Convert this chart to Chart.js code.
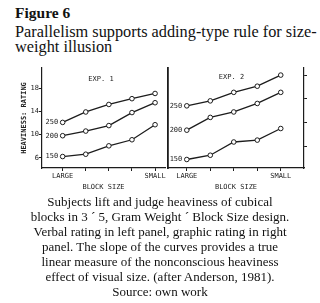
<!DOCTYPE html>
<html>
<head>
<meta charset="utf-8">
<script src="https://cdn.jsdelivr.net/npm/chart.js@4.4.0/dist/chart.umd.min.js"></script>
<style>
body { margin: 0; background: #fff; width: 320px; height: 303px; overflow: hidden; position: relative; font-family: "Liberation Serif", serif; color: #111; }
#titulo { position: absolute; left: 15px; top: 5px; font-weight: bold; font-size: 15.5px; line-height: 15px; }
#sub { position: absolute; left: 15px; top: 24px; font-size: 16.3px; line-height: 15px; white-space: nowrap; }
#legenda { position: absolute; left: 0; top: 194px; width: 320px; text-align: center; font-size: 13px; line-height: 15px; }
#c1 { position: absolute; left: 0; top: 55px; }
#c2 { position: absolute; left: 160px; top: 55px; }
</style>
</head>
<body>
<div id="titulo">Figure 6</div>
<div id="sub">Parallelism supports adding-type rule for size-<br>weight illusion</div>
<canvas id="c1" width="170" height="145"></canvas>
<canvas id="c2" width="160" height="145"></canvas>
<div id="legenda">Subjects lift and judge heaviness of cubical<br>blocks in 3 ´ 5, Gram Weight ´ Block Size design.<br>Verbal rating in left panel, graphic rating in right<br>panel. The slope of the curves provides a true<br>linear measure of the nonconscious heaviness<br>effect of visual size. (after Anderson, 1981).<br>Source: own work</div>
<script>
// dados
const tamanhos = ['LARGE', '', '', '', 'SMALL'];
const posicoes = [1, 2, 3, 4, 5];
const pesos = ['250', '200', '150'];

// painel esquerdo - avaliacao verbal
const verbal250 = [12.1, 13.9, 15.2, 16.2, 17.1];
const verbal200 = [9.8, 10.6, 11.55, 13.8, 15.5];
const verbal150 = [6.2, 6.6, 8.05, 9.1, 11.7];
const ticksVerbal = [6, 10, 14, 18];

// painel direito - avaliacao grafica (unidades arbitrarias)
const grafico250 = [2.7, 2.91, 3.27, 3.53, 4.0];
const grafico200 = [1.67, 2.21, 2.44, 2.8, 3.27];
const grafico150 = [0.43, 0.61, 1.17, 1.25, 1.74];
const ticksGrafico = [1, 2, 3, 4];

const corTraco = '#1c1c1c';
const fonteMao = { family: '"DejaVu Sans Mono", monospace', size: 7 };

function montarSerie(rotulo, valores) {
    return {
        label: rotulo,
        data: posicoes.map((p, i) => ({ x: p, y: valores[i] })),
        borderColor: corTraco,
        borderWidth: 1.3,
        pointRadius: 2.3,
        pointBorderWidth: 1,
        pointBorderColor: corTraco,
        pointBackgroundColor: '#fff',
        tension: 0
    };
}

// escreve o peso ao lado do primeiro ponto e o nome do experimento
const rotulosPlugin = {
    id: 'rotulos',
    afterDatasetsDraw(chart, args, opts) {
        const ctx = chart.ctx;
        ctx.save();
        ctx.font = '7px "DejaVu Sans Mono", monospace';
        ctx.fillStyle = '#222';
        ctx.textAlign = 'right';
        ctx.textBaseline = 'middle';
        chart.data.datasets.forEach((ds, i) => {
            const p = chart.getDatasetMeta(i).data[0];
            ctx.fillText(ds.label, p.x - 4.5, p.y);
        });
        const a = chart.chartArea;
        ctx.textAlign = 'center';
        ctx.fillText(opts.texto, a.left + opts.dx, a.top + opts.dy);
        ctx.restore();
    }
};

function eixoX(min, max) {
    return {
        type: 'linear',
        min: min,
        max: max,
        afterBuildTicks: s => { s.ticks = posicoes.map(v => ({ value: v })); },
        afterFit: s => { s.height = 32; },
        grid: { drawOnChartArea: false, drawTicks: true, tickLength: 3, color: corTraco },
        border: { display: true, color: corTraco, width: 1.2 },
        ticks: {
            padding: 1,
            maxRotation: 0,
            autoSkip: false,
            color: '#222',
            font: fonteMao,
            callback: v => tamanhos[posicoes.indexOf(v)] || ''
        },
        title: { display: true, text: 'BLOCK SIZE', color: '#222', font: fonteMao, padding: { top: 0, bottom: 8.8 } }
    };
}

const comum = {
    responsive: false,
    animation: false,
    plugins: { legend: { display: false }, tooltip: { enabled: false } }
};

// painel esquerdo
new Chart(document.getElementById('c1'), {
    type: 'line',
    data: { datasets: [montarSerie(pesos[0], verbal250), montarSerie(pesos[1], verbal200), montarSerie(pesos[2], verbal150)] },
    options: {
        ...comum,
        layout: { padding: { left: 0, right: 3, top: 13, bottom: 0 } },
        plugins: { ...comum.plugins, rotulos: { texto: 'EXP. 1', dx: 59, dy: 11 } },
        scales: {
            x: eixoX(0.106, 5.43),
            y: {
                min: 4.22,
                max: 21.5,
                afterBuildTicks: s => { s.ticks = ticksVerbal.map(v => ({ value: v })); },
                afterFit: s => { s.width = 42; },
                grid: { drawOnChartArea: false, tickLength: 3, color: corTraco },
                border: { display: true, color: corTraco, width: 1.2 },
                ticks: { padding: 0, color: '#222', font: fonteMao },
                title: { display: true, text: 'HEAVINESS: RATING', color: '#222', font: { ...fonteMao, weight: 'bold' }, padding: { top: 20.3, bottom: 0 } }
            }
        }
    },
    plugins: [rotulosPlugin]
});

// painel direito
new Chart(document.getElementById('c2'), {
    type: 'line',
    data: { datasets: [montarSerie(pesos[0], grafico250), montarSerie(pesos[1], grafico200), montarSerie(pesos[2], grafico150)] },
    options: {
        ...comum,
        layout: { padding: { left: 0, right: 0, top: 13, bottom: 0 } },
        plugins: { ...comum.plugins, rotulos: { texto: 'EXP. 2', dx: 63.5, dy: 9 } },
        scales: {
            x: eixoX(0.2, 5.99),
            y: {
                min: 0.07,
                max: 4.3,
                afterFit: s => { s.width = 8; },
                grid: { display: false },
                border: { display: true, color: corTraco, width: 1.8 },
                ticks: { display: false }
            },
            yR: {
                position: 'right',
                min: 0.07,
                max: 4.3,
                afterBuildTicks: s => { s.ticks = ticksGrafico.map(v => ({ value: v })); },
                afterFit: s => { s.width = 16; },
                grid: { drawOnChartArea: false, tickLength: 3, color: corTraco },
                border: { display: true, color: corTraco, width: 1.2 },
                ticks: { display: false }
            }
        }
    },
    plugins: [rotulosPlugin]
});
</script>
</body>
</html>
